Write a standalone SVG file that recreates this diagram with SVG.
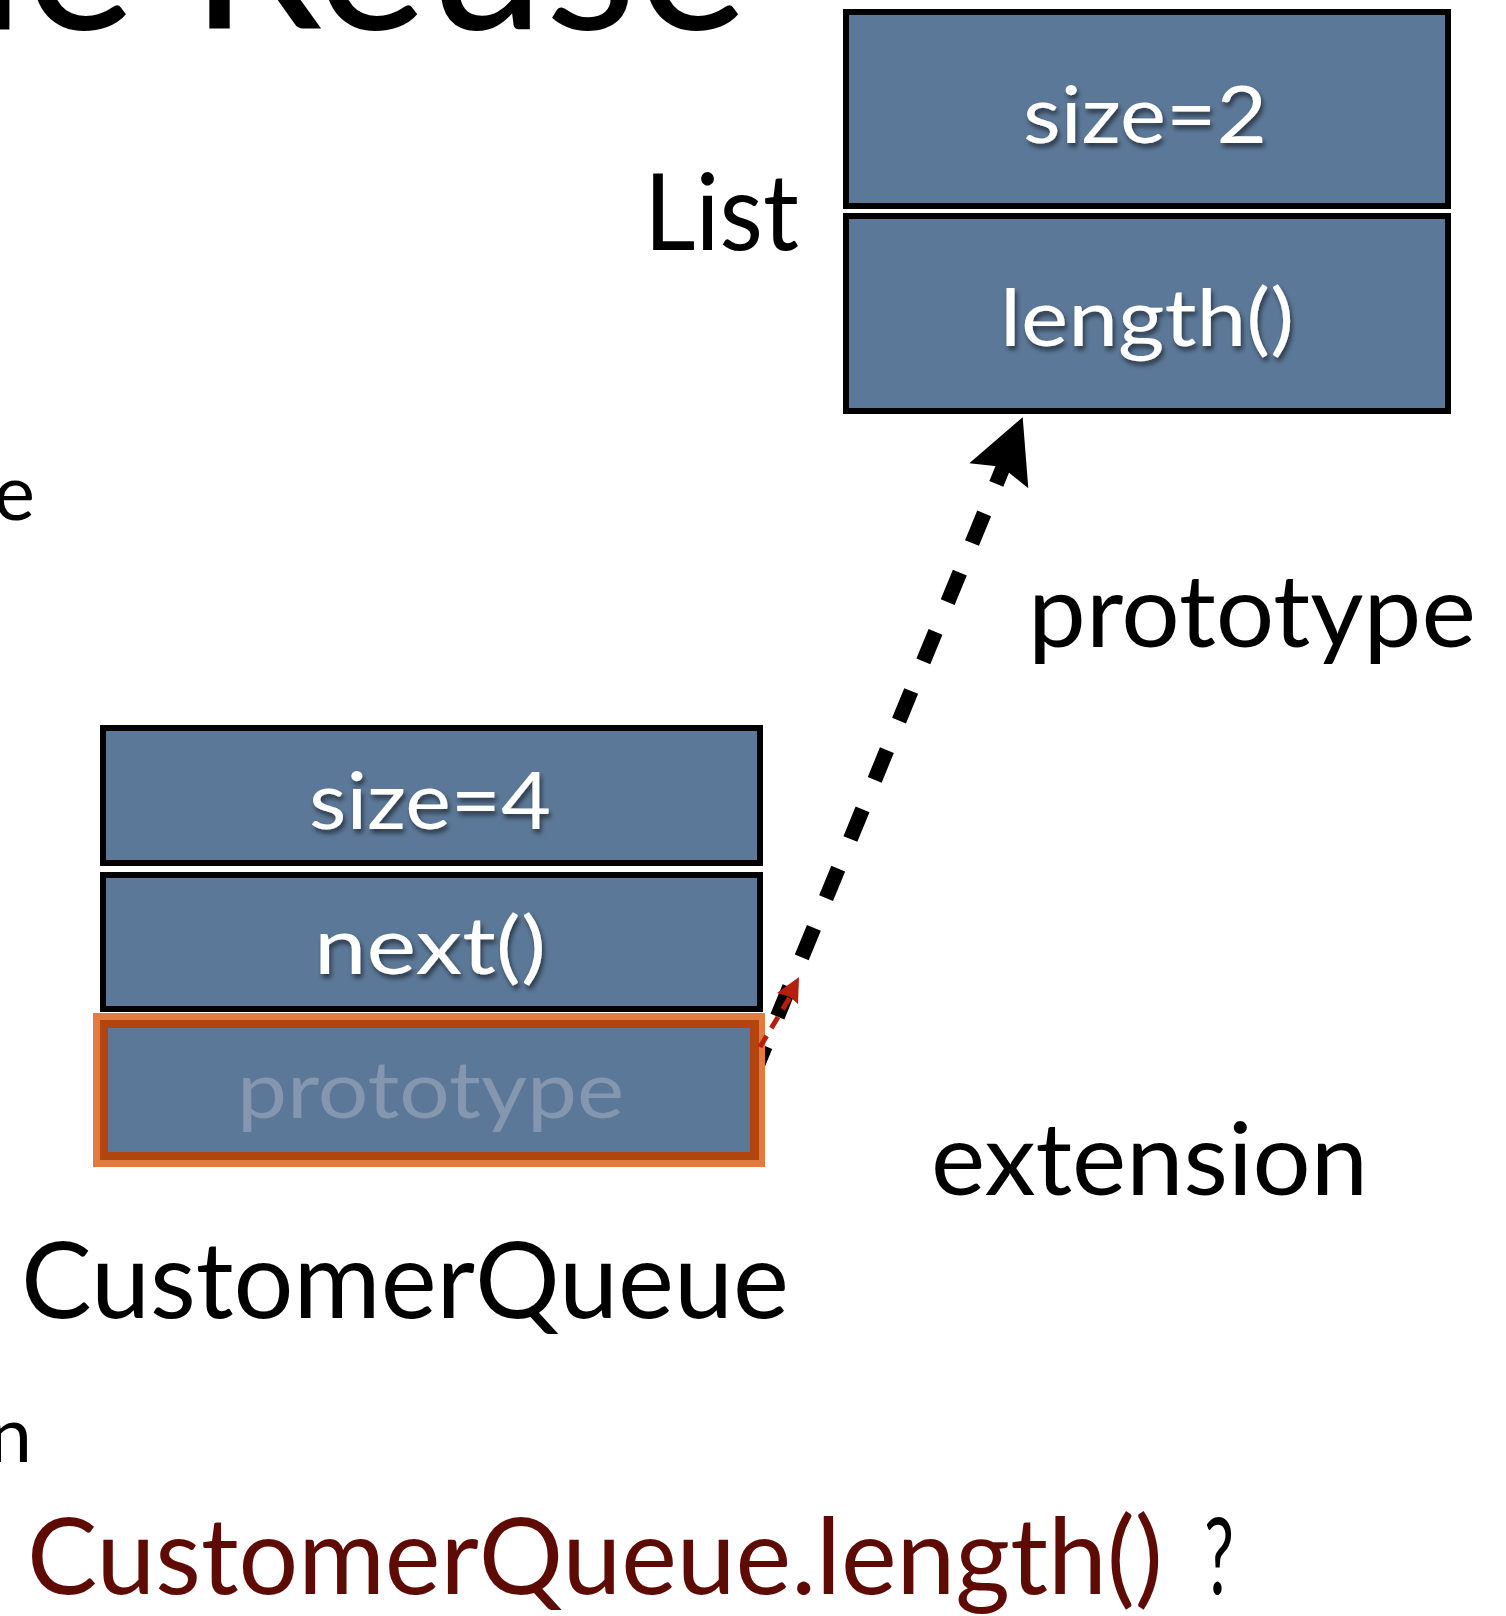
<svg xmlns="http://www.w3.org/2000/svg" width="1506" height="1616" viewBox="0 0 1506 1616">
<style>
.t{font-family:Lato,"Open Sans","Liberation Sans",sans-serif;fill:#000}
.cell{fill:#5c7898;stroke:#000;stroke-width:6}
.lbl{font-family:Lato,"Open Sans","Liberation Sans",sans-serif;fill:#fff;font-size:80px;filter:url(#sh)}
.big{font-size:106px}
.mid{font-size:100px}
</style>
<defs>
<filter id="sh" x="-10%" y="-20%" width="120%" height="150%">
<feDropShadow dx="2" dy="4" stdDeviation="2.5" flood-color="#000" flood-opacity="0.55"/>
</filter>
</defs>
<g id="connectors">
<line x1="753.1" y1="1075.8" x2="1008.5" y2="454.2" stroke="#000" stroke-width="15" stroke-dasharray="32 32"/>
<path d="M1022.7,417.3 L969.3,463.3 L1001.7,466.7 L1028.3,488.3 Z" fill="#000"/>
</g>
<g id="title">
<text class="t" x="-94" y="29" font-size="215" textLength="842" lengthAdjust="spacingAndGlyphs">de Reuse</text>
</g>
<g id="cut-text">
<text class="t" x="35" y="520" font-size="78" text-anchor="end">e</text>
<text class="t" x="32" y="1462" font-size="78" text-anchor="end">n</text>
</g>
<g id="list">
<rect class="cell" x="846" y="12" width="602" height="194"/>
<rect class="cell" x="846" y="216" width="602" height="195"/>
<text class="lbl" x="1023" y="143" textLength="244" lengthAdjust="spacingAndGlyphs">size=2</text>
<text class="lbl" x="1000" y="346" textLength="294" lengthAdjust="spacingAndGlyphs">length()</text>
<text class="t big" x="644" y="250" textLength="155" lengthAdjust="spacingAndGlyphs">List</text>
</g>
<g id="customerqueue">
<rect class="cell" x="103" y="728" width="657" height="135"/>
<rect class="cell" x="103" y="875" width="657" height="134"/>
<rect x="93" y="1013" width="672" height="154" fill="#e27b3d"/>
<rect x="100" y="1020" width="659" height="140" fill="#b2440f"/>
<rect x="108" y="1028" width="642" height="124" fill="#5c7898"/>
<text class="lbl" x="309" y="829" textLength="242" lengthAdjust="spacingAndGlyphs">size=4</text>
<text class="lbl" x="314" y="974" textLength="232" lengthAdjust="spacingAndGlyphs">next()</text>
<text x="237" y="1118" font-family="Lato,'Open Sans','Liberation Sans',sans-serif" font-size="80" fill="#8497ae" textLength="387" lengthAdjust="spacingAndGlyphs">prototype</text>
<text class="t big" x="21" y="1318" textLength="768" lengthAdjust="spacingAndGlyphs">CustomerQueue</text>
</g>
<g id="extension-arrow">
<line x1="760" y1="1047" x2="790" y2="997" stroke="#b51f0b" stroke-width="5" stroke-dasharray="13 9"/>
<path d="M799,977 L777,993 L790,997 L798,1004 Z" fill="#b51f0b"/>
</g>
<g id="labels">
<text class="t mid" x="1028" y="647" textLength="448" lengthAdjust="spacingAndGlyphs">prototype</text>
<text class="t mid" x="931" y="1195" textLength="437" lengthAdjust="spacingAndGlyphs">extension</text>
</g>
<g id="question">
<text class="t big" x="27" y="1594" style="fill:#5e0b05" textLength="1136" lengthAdjust="spacingAndGlyphs">CustomerQueue.length()</text>
<text class="t big" x="1204" y="1594" textLength="30" lengthAdjust="spacingAndGlyphs">?</text>
</g>
</svg>
